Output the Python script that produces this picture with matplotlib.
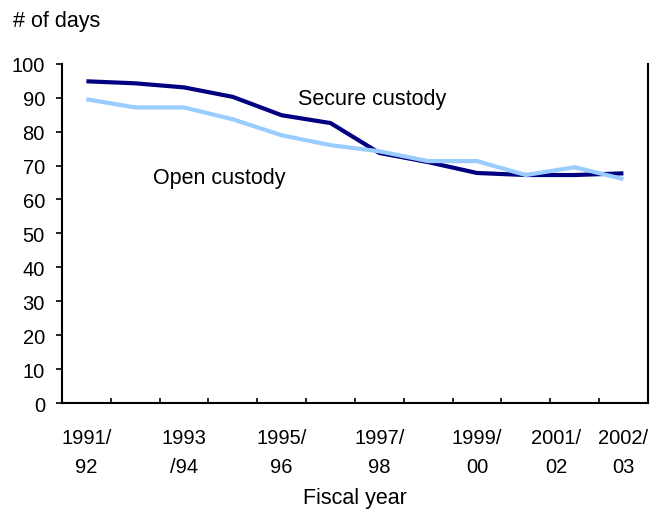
import matplotlib
matplotlib.use("Agg")
import matplotlib.pyplot as plt

plt.rcParams['font.family'] = ['Liberation Sans', 'DejaVu Sans']

years = ["1991/92", "1992/93", "1993/94", "1994/95", "1995/96", "1996/97",
         "1997/98", "1998/99", "1999/00", "2000/01", "2001/02", "2002/03"]
secure = [94.8, 94.2, 93.0, 90.2, 84.8, 82.5, 73.7, 71.0, 67.8, 67.2, 67.2, 67.7]
open_ = [89.5, 87.1, 87.1, 83.6, 78.9, 76.0, 74.2, 71.3, 71.3, 67.2, 69.5, 66.0]

tick_idx = [0, 2, 4, 6, 8, 10, 11]
tick_text = ["1991/\n92", "1993\n/94", "1995/\n96", "1997/\n98", "1999/\n00", "2001/\n02", "2002/\n03"]

fig = plt.figure(figsize=(6.65, 5.1), dpi=100)
ax = fig.add_axes([0.0932, 0.2073, 0.881, 0.666])

x = list(range(len(years)))
ax.plot(x, secure, color="#000080", lw=3, solid_joinstyle="round", solid_capstyle="butt")
ax.plot(x, open_, color="#99CCFF", lw=3, solid_joinstyle="round", solid_capstyle="butt")

ax.set_xlim(-0.5, len(years) - 0.5)
ax.set_ylim(0, 100)
ax.set_yticks(range(0, 101, 10))
ax.tick_params(axis="y", direction="out", length=4.3, width=1.2, labelsize=14.5, pad=8)

# category boundaries as ticks, labels placed separately
ax.set_xticks([i - 0.5 for i in range(len(years) + 1)])
ax.set_xticklabels([])
ax.tick_params(axis="x", direction="in", length=3.6, width=1.2)
# the 2001/02 label is nudged left so it clears 2002/03
label_pos = [i - 0.37 if i == 10 else i for i in tick_idx]
ax.set_xticks(label_pos, minor=True)
ax.set_xticklabels(tick_text, minor=True, fontsize=14.5, linespacing=1.65)
ax.tick_params(axis="x", which="minor", length=0, pad=18)

ax.spines["top"].set_visible(False)
for s in ["left", "bottom", "right"]:
    ax.spines[s].set_linewidth(1.5)

ax.text(4.33, 88.2, "Secure custody", fontsize=15.5, va="baseline")
ax.text(1.36, 64.8, "Open custody", fontsize=15.5, va="baseline")
fig.text(0.0195, 0.947, "# of days", fontsize=15.5, va="baseline")
ax.text(0.5, -0.295, "Fiscal year", fontsize=15.5, ha="center", va="baseline",
        transform=ax.transAxes)

fig.savefig("out.png", dpi=100)
